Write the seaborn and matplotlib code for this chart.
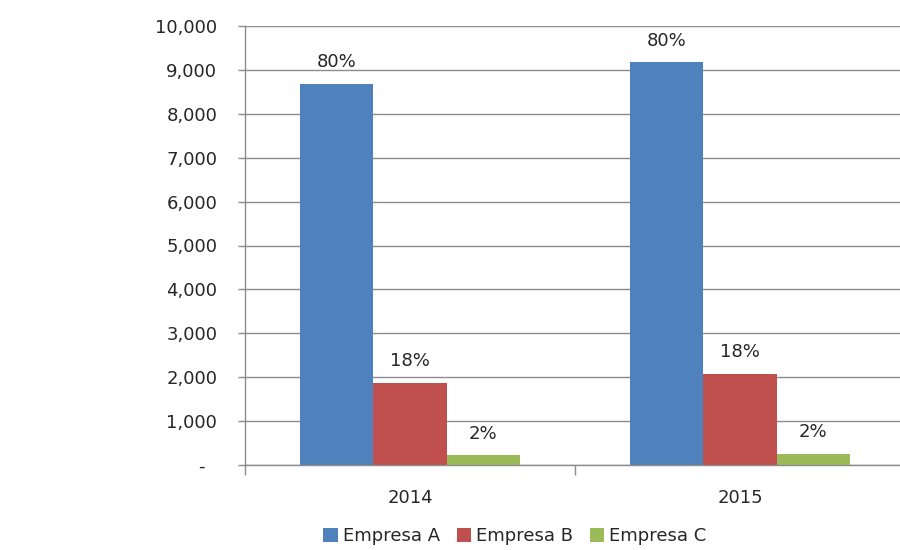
import matplotlib
matplotlib.use("Agg")
import matplotlib.pyplot as plt
import seaborn as sns
import pandas as pd
from matplotlib.ticker import FixedLocator, FuncFormatter
from matplotlib.patches import Patch

years = ["2014", "2015"]
companies = ["Empresa A", "Empresa B", "Empresa C"]
empresa_a = [8680, 9170]
empresa_b = [1870, 2075]
empresa_c = [220, 260]
labels_a = ["80%", "80%"]
labels_b = ["18%", "18%"]
labels_c = ["2%", "2%"]
yticks = [0, 1000, 2000, 3000, 4000, 5000, 6000, 7000, 8000, 9000, 10000]
colors = ["#4F81BD", "#C0504D", "#9BBB59"]

rows = []
for comp, vals in zip(companies, [empresa_a, empresa_b, empresa_c]):
    for y, v in zip(years, vals):
        rows.append({"Año": y, "Empresa": comp, "Valor": v})
df = pd.DataFrame(rows)

sns.set_style("white")
plt.rcParams["font.family"] = ["DejaVu Sans"]
text_color = "#262626"
grid_color = "#8C8C8C"

fig = plt.figure(figsize=(9, 5.5), dpi=100)
ax = fig.add_axes([245 / 900, 1 - 465 / 550, 660 / 900, (465 - 26) / 550])

sns.barplot(data=df, x="Año", y="Valor", hue="Empresa", order=years,
            hue_order=companies, palette=colors, width=2 / 3, gap=0,
            saturation=1, ax=ax, legend=False, linewidth=0, errorbar=None)

for cont, labs in zip(ax.containers, [labels_a, labels_b, labels_c]):
    ax.bar_label(cont, labels=labs, padding=9, fontsize=13, color=text_color)

ax.set_ylim(0, 10000)
ax.set_xlim(-0.5, 1.5)
ax.yaxis.set_major_locator(FixedLocator(yticks))
ax.yaxis.set_major_formatter(FuncFormatter(lambda v, p: "-  " if v == 0 else f"{int(v):,}"))
ax.yaxis.grid(True, color=grid_color, linewidth=1.0)
ax.set_axisbelow(True)
ax.set_xlabel("")
ax.set_ylabel("")

for s in ["top", "right"]:
    ax.spines[s].set_visible(False)
for s in ["left", "bottom"]:
    ax.spines[s].set_color(grid_color)
    ax.spines[s].set_linewidth(1.0)

ax.tick_params(axis="y", which="major", left=True, length=5, width=1.0,
               color=grid_color, pad=15, labelsize=13, labelcolor=text_color)
ax.tick_params(axis="x", which="major", bottom=False, length=0, pad=17,
               labelsize=13, labelcolor=text_color)
ax.xaxis.set_minor_locator(FixedLocator([-0.5, 0.5, 1.5]))
ax.tick_params(axis="x", which="minor", bottom=True, length=7, width=1.0,
               color=grid_color)

handles = [Patch(facecolor=c, edgecolor="none") for c in colors]
fig.legend(handles, companies, loc="center", bbox_to_anchor=(515 / 900, 1 - 536 / 550),
           ncol=3, frameon=False, fontsize=13, handlelength=0.8, handleheight=0.8,
           handletextpad=0.3, columnspacing=0.9, labelcolor=text_color)

fig.savefig("out.png", dpi=100)
